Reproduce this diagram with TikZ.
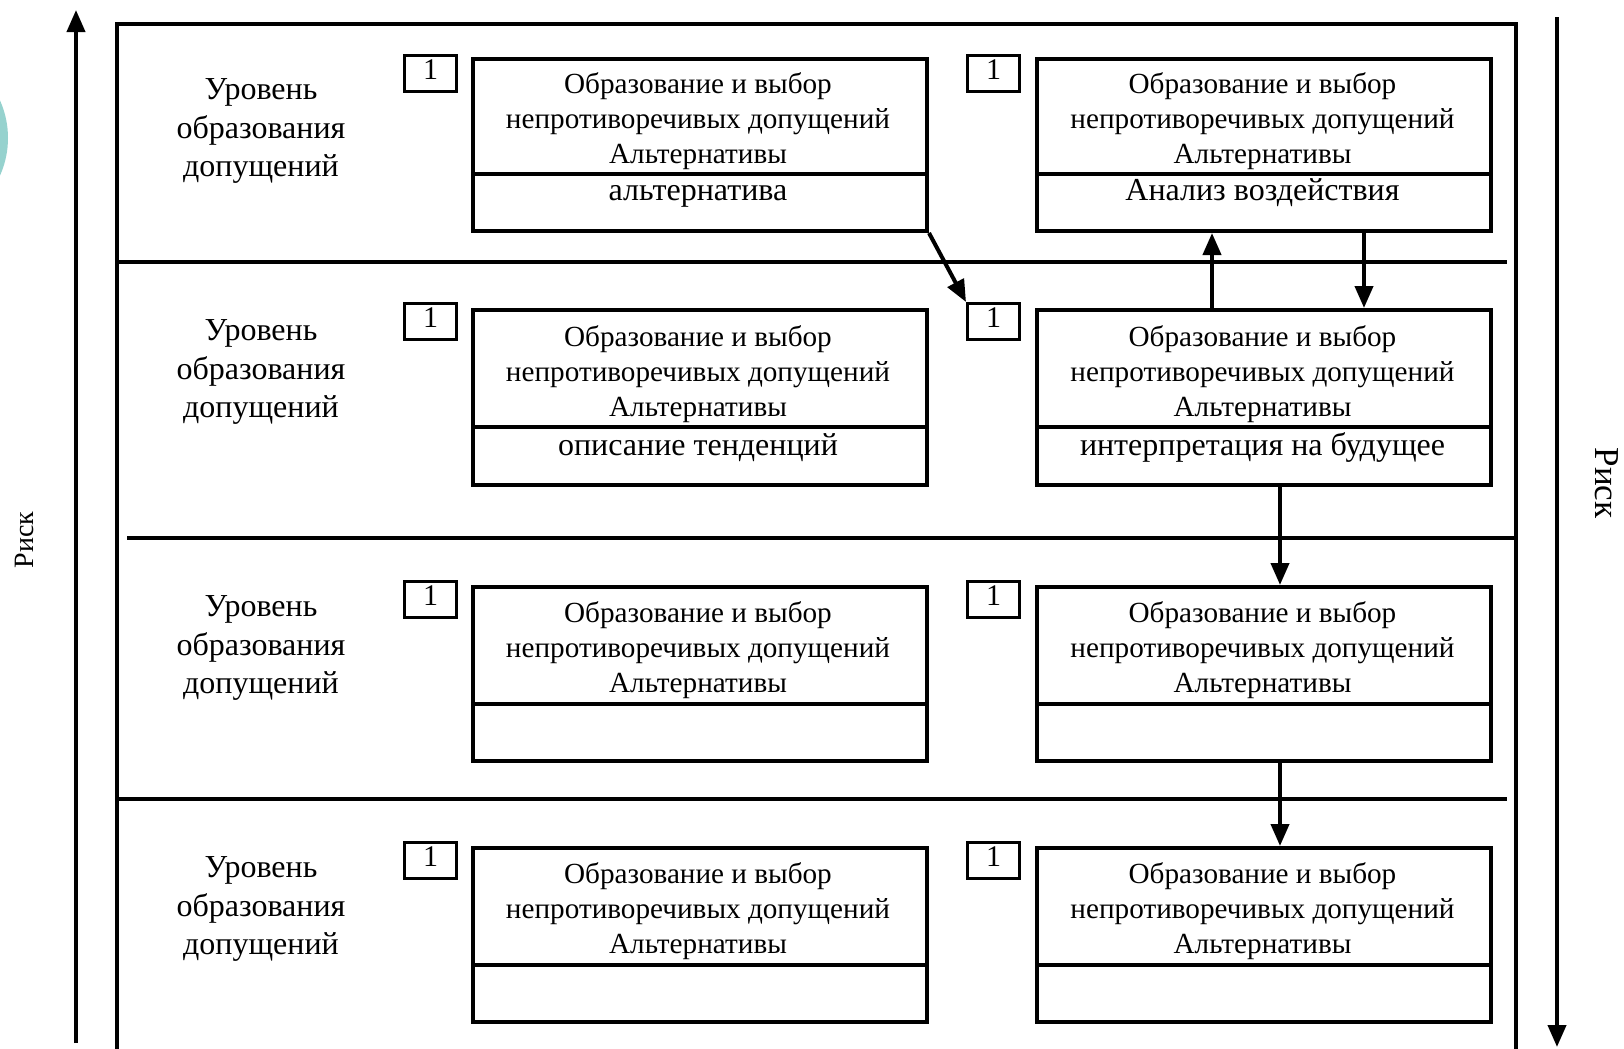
\documentclass[tikz,border=0pt]{standalone}
\usepackage{fontspec}
\setmainfont{Liberation Serif}
\usetikzlibrary{arrows.meta}
\definecolor{tealarc}{RGB}{150,210,206}
\begin{document}
\begin{tikzpicture}[x=0.5pt,y=-0.5pt,
  txt/.style={font=\fontsize{14.6}{17.35}\selectfont, align=center, inner sep=0pt},
  sub/.style={font=\fontsize{16}{18}\selectfont, inner sep=0pt, anchor=base},
  lvl/.style={font=\fontsize{16}{19.2}\selectfont, align=center, inner sep=0pt},
  bigbox/.style={draw, line width=2pt, minimum width=227pt, inner sep=0pt, anchor=north west},
  numbox/.style={draw, line width=1.5pt, minimum width=26pt, minimum height=18pt, inner sep=0pt, anchor=north west, font=\fontsize{15}{17}\selectfont},
  arr/.style={line width=2pt, -{Triangle[length=11pt,width=9pt]}},
  rule/.style={line width=2pt},
  frame/.style={line width=1.8pt}]
\useasboundingbox (0,0) rectangle (1624,1049);
\clip (0,0) rectangle (1624,1049);
% decoration arc
\fill[tealarc] (-84,138) circle [radius=92];
% side arrows
\coordinate (la) at (76,1043);
\coordinate (lb) at (76,10);
\coordinate (ra) at (1557,17);
\coordinate (rb) at (1557,1047);
\draw[arr] (la) -- (lb);
\draw[arr] (ra) -- (rb);
\node[inner sep=0pt, font=\fontsize{14}{16}\selectfont, rotate=90] (riskL) at (24,540) {Риск};
\node[inner sep=0pt, font=\fontsize{17.5}{19}\selectfont, rotate=-90] (riskR) at (1607,483) {Риск};
% frame
\coordinate (f1) at (117,1060);
\coordinate (f2) at (117,24);
\coordinate (f3) at (1516,24);
\coordinate (f4) at (1516,1060);
\draw[frame] (f1) -- (f2) -- (f3) -- (f4);
% dividers
\coordinate (d1a) at (117,262); \coordinate (d1b) at (1507,262);
\coordinate (d2a) at (127,538); \coordinate (d2b) at (1516,538);
\coordinate (d3a) at (117,799); \coordinate (d3b) at (1507,799);
\draw[rule] (d1a) -- (d1b);
\draw[rule] (d2a) -- (d2b);
\draw[rule] (d3a) -- (d3b);
% level labels
\node[lvl] (lv1) at (261,131) {Уровень\\образования\\допущений};
\node[lvl] (lv2) at (261,372) {Уровень\\образования\\допущений};
\node[lvl] (lv3) at (261,648) {Уровень\\образования\\допущений};
\node[lvl] (lv4) at (261,909) {Уровень\\образования\\допущений};
% row 1
\node[bigbox, minimum height=86pt] (b11) at (471,57) {};
\node[bigbox, minimum height=86pt] (b12) at (1035,57) {};
\draw[rule] ([yshift=-58.5pt]b11.north west) -- ([yshift=-58.5pt]b11.north east);
\draw[rule] ([yshift=-58.5pt]b12.north west) -- ([yshift=-58.5pt]b12.north east);
\node[numbox] (n11) at (403,54) {\raisebox{3.5pt}{1}};
\node[numbox] (n12) at (966,54) {\raisebox{3.5pt}{1}};
\node[txt] (t11) at (698,121) {Образование и выбор\\непротиворечивых допущений\\Альтернативы};
\node[txt] (t12) at (1262.5,121) {Образование и выбор\\непротиворечивых допущений\\Альтернативы};
\node[sub] (s11) at (698,200) {альтернатива};
\node[sub] (s12) at (1262.5,200) {Анализ воздействия};
% row 2
\node[bigbox, minimum height=87.5pt] (b21) at (471,308) {};
\node[bigbox, minimum height=87.5pt] (b22) at (1035,308) {};
\draw[rule] ([yshift=-59.5pt]b21.north west) -- ([yshift=-59.5pt]b21.north east);
\draw[rule] ([yshift=-59.5pt]b22.north west) -- ([yshift=-59.5pt]b22.north east);
\node[numbox] (n21) at (403,302) {\raisebox{3.5pt}{1}};
\node[numbox] (n22) at (966,302) {\raisebox{3.5pt}{1}};
\node[txt] (t21) at (698,374) {Образование и выбор\\непротиворечивых допущений\\Альтернативы};
\node[txt] (t22) at (1262.5,374) {Образование и выбор\\непротиворечивых допущений\\Альтернативы};
\node[sub] (s21) at (698,455) {описание тенденций};
\node[sub] (s22) at (1262.5,455) {интерпретация на будущее};
% row 3
\node[bigbox, minimum height=87pt] (b31) at (471,585) {};
\node[bigbox, minimum height=87pt] (b32) at (1035,585) {};
\draw[rule] ([yshift=-59.5pt]b31.north west) -- ([yshift=-59.5pt]b31.north east);
\draw[rule] ([yshift=-59.5pt]b32.north west) -- ([yshift=-59.5pt]b32.north east);
\node[numbox] (n31) at (403,580) {\raisebox{3.5pt}{1}};
\node[numbox] (n32) at (966,580) {\raisebox{3.5pt}{1}};
\node[txt] (t31) at (698,650) {Образование и выбор\\непротиворечивых допущений\\Альтернативы};
\node[txt] (t32) at (1262.5,650) {Образование и выбор\\непротиворечивых допущений\\Альтернативы};
% row 4
\node[bigbox, minimum height=87pt] (b41) at (471,846) {};
\node[bigbox, minimum height=87pt] (b42) at (1035,846) {};
\draw[rule] ([yshift=-59.5pt]b41.north west) -- ([yshift=-59.5pt]b41.north east);
\draw[rule] ([yshift=-59.5pt]b42.north west) -- ([yshift=-59.5pt]b42.north east);
\node[numbox] (n41) at (403,841) {\raisebox{3.5pt}{1}};
\node[numbox] (n42) at (966,841) {\raisebox{3.5pt}{1}};
\node[txt] (t41) at (698,911) {Образование и выбор\\непротиворечивых допущений\\Альтернативы};
\node[txt] (t42) at (1262.5,911) {Образование и выбор\\непротиворечивых допущений\\Альтернативы};
% connectors
\draw[arr] (b11.south east) -- (n22.north west);
\draw[arr] ([xshift=88.5pt]b22.north west) -- ([xshift=88.5pt]b12.south west);
\draw[arr] ([xshift=164.5pt]b12.south west) -- ([xshift=164.5pt]b22.north west);
\draw[arr] ([xshift=122.5pt]b22.south west) -- ([xshift=122.5pt]b32.north west);
\draw[arr] ([xshift=122.5pt]b32.south west) -- ([xshift=122.5pt]b42.north west);
\end{tikzpicture}
\end{document}
